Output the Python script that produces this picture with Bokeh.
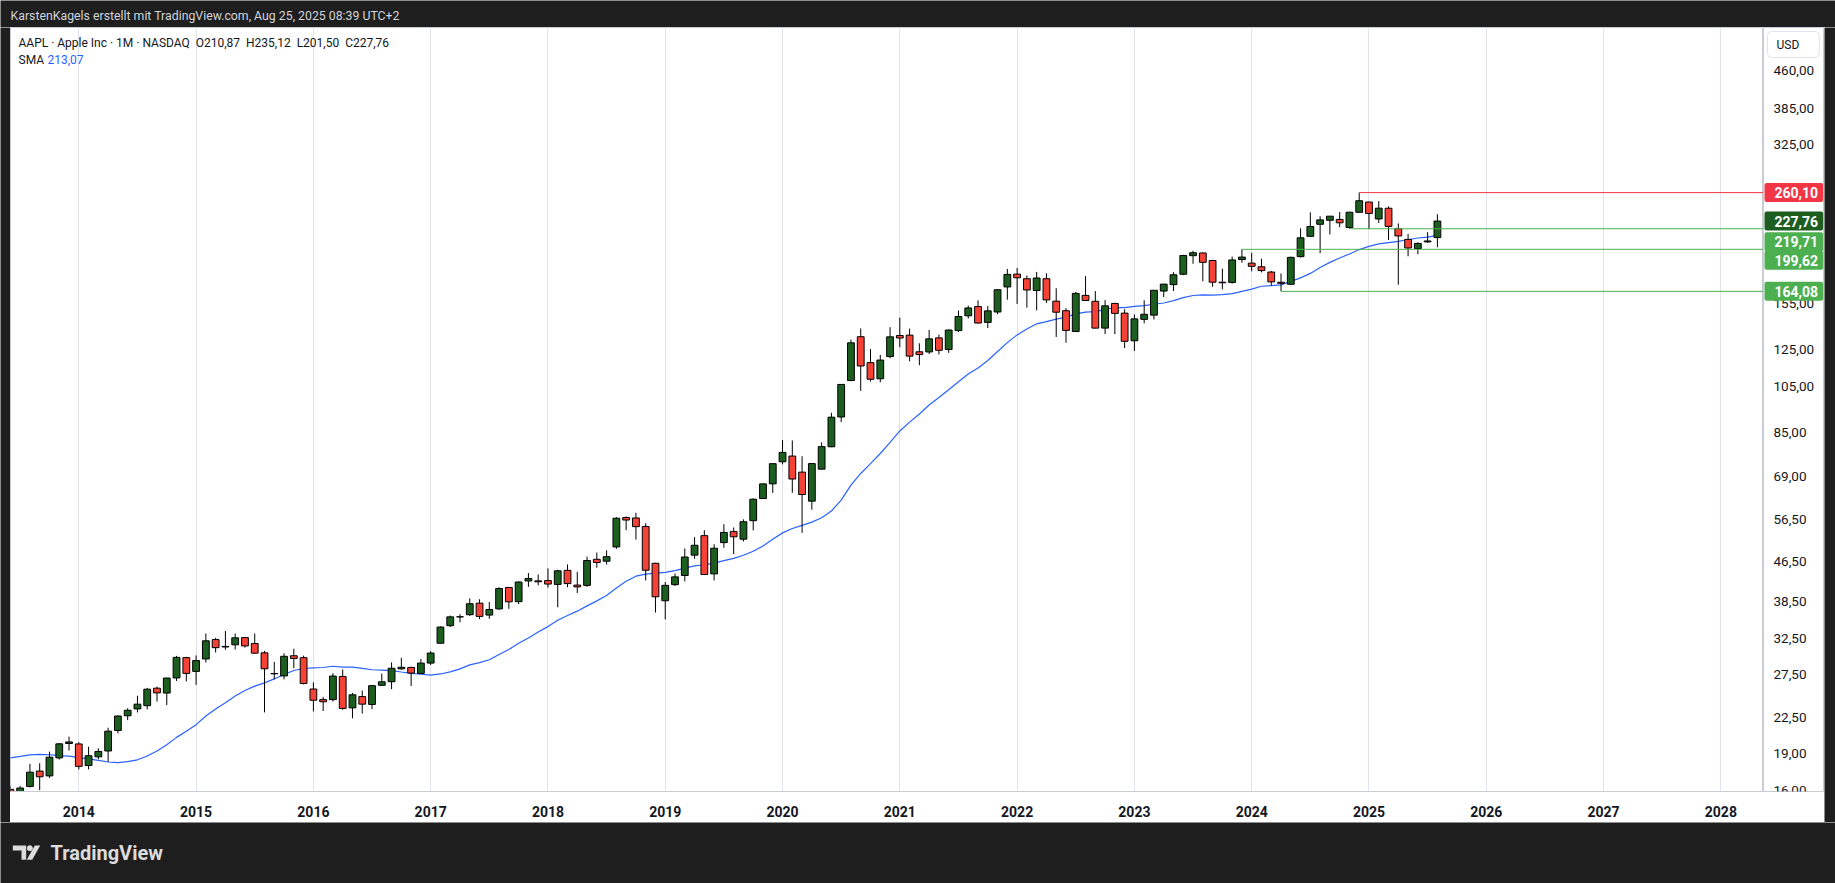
import pandas as pd
from bokeh.plotting import figure
from bokeh.models import Range1d, FixedTicker, CustomJSTickFormatter, Label, ColumnDataSource
from bokeh.layouts import column, row
from bokeh.core.properties import value
from bokeh.embed import file_html
from bokeh.resources import INLINE

# ---------------- data (AAPL monthly, USD) ----------------
first_month = "2013-06"

o2013 = [16.06, 14.38, 16.28, 17.49, 17.10, 18.60, 19.89]
h2013 = [16.32, 16.32, 18.09, 18.14, 19.15, 19.94, 20.54]
l2013 = [13.75, 14.11, 16.20, 16.00, 16.94, 18.45, 19.24]
c2013 = [14.16, 16.16, 17.40, 17.03, 18.66, 19.86, 20.04]

o2014 = [19.85, 17.95, 18.69, 19.21, 21.14, 22.64, 23.38, 23.73, 25.75, 25.17, 27.01, 29.70]
h2014 = [20.01, 19.60, 19.45, 21.41, 22.69, 23.45, 24.86, 25.79, 25.94, 27.03, 29.94, 29.81]
l2014 = [17.63, 17.63, 18.48, 18.26, 20.86, 22.18, 23.00, 23.32, 24.19, 23.80, 26.63, 26.57]
c2014 = [17.88, 18.79, 19.17, 21.07, 22.61, 23.23, 23.90, 25.63, 25.19, 27.00, 29.73, 27.59]

o2015 = [27.85, 29.51, 32.31, 31.21, 31.53, 32.61, 31.72, 30.37, 27.54, 27.27, 29.96, 29.69]
h2015 = [30.00, 33.24, 32.57, 33.63, 33.24, 32.69, 33.24, 30.64, 29.12, 30.30, 30.95, 29.97]
l2015 = [26.16, 29.02, 30.41, 30.80, 30.84, 31.12, 30.26, 23.00, 26.84, 26.83, 28.25, 26.21]
c2015 = [29.29, 32.12, 31.11, 31.29, 32.57, 31.36, 30.32, 28.19, 27.57, 29.88, 29.58, 26.32]

o2016 = [25.65, 24.41, 24.41, 27.20, 23.49, 24.76, 23.87, 26.10, 26.54, 28.18, 28.37, 27.59]
h2016 = [26.46, 24.72, 27.61, 28.10, 25.18, 25.47, 26.14, 27.56, 29.05, 29.67, 28.44, 29.50]
l2016 = [23.10, 23.15, 24.19, 23.28, 22.37, 22.88, 23.35, 26.01, 25.63, 28.07, 26.02, 27.56]
c2016 = [24.34, 24.17, 27.25, 23.43, 24.97, 23.90, 26.05, 26.53, 28.26, 28.39, 27.63, 28.95]

o2017 = [28.95, 31.76, 34.47, 35.93, 36.28, 38.29, 36.22, 37.28, 41.20, 38.56, 42.47, 42.49]
h2017 = [30.61, 34.37, 36.13, 36.37, 39.16, 38.99, 38.50, 41.24, 41.24, 42.41, 44.06, 43.78]
l2017 = [28.69, 31.75, 34.26, 35.01, 36.07, 35.55, 35.60, 37.10, 37.29, 38.12, 41.32, 41.62]
c2017 = [30.34, 34.25, 35.92, 35.91, 38.19, 36.00, 37.18, 41.00, 38.53, 42.26, 42.96, 42.31]

o2018 = [42.54, 41.79, 44.63, 41.66, 41.60, 46.99, 46.57, 49.78, 57.10, 56.99, 54.76, 46.12]
h2018 = [45.03, 44.76, 45.88, 44.33, 47.59, 48.49, 48.99, 57.22, 57.42, 58.37, 55.59, 46.24]
l2018 = [41.18, 37.56, 41.24, 40.16, 41.32, 45.18, 45.86, 49.33, 53.83, 51.52, 42.56, 36.65]
c2018 = [41.86, 44.53, 41.95, 41.31, 46.72, 46.28, 47.57, 56.91, 56.44, 54.72, 44.65, 39.44]

o2019 = [38.72, 41.74, 43.57, 47.91, 52.47, 43.90, 50.79, 53.47, 51.61, 56.27, 62.38, 66.82]
h2019 = [42.25, 43.97, 49.42, 52.12, 53.83, 50.39, 55.34, 54.51, 56.61, 62.44, 66.94, 73.49]
l2019 = [35.50, 41.48, 42.38, 47.10, 43.75, 42.57, 49.60, 48.15, 51.06, 53.78, 62.29, 64.07]
c2019 = [41.61, 43.29, 47.49, 50.17, 43.77, 49.48, 53.26, 52.19, 55.99, 62.19, 66.81, 73.41]

o2020 = [74.06, 76.07, 70.57, 61.63, 71.56, 79.44, 91.28, 108.20, 132.76, 117.64, 109.11, 121.01]
h2020 = [81.96, 81.81, 76.00, 73.63, 81.06, 93.10, 106.42, 131.00, 137.98, 125.39, 121.99, 138.79]
l2020 = [73.19, 64.09, 53.15, 59.22, 71.46, 79.30, 89.14, 107.89, 103.10, 107.72, 107.32, 120.01]
c2020 = [77.38, 68.34, 63.57, 73.45, 79.49, 91.20, 106.26, 129.04, 115.81, 108.86, 119.05, 132.69]

o2021 = [133.52, 133.75, 123.75, 123.66, 132.04, 125.08, 136.60, 146.36, 152.83, 141.90, 148.99, 167.48]
h2021 = [145.09, 137.88, 128.72, 137.07, 134.07, 137.41, 150.00, 153.49, 157.26, 153.17, 165.70, 182.13]
l2021 = [126.38, 118.39, 116.21, 122.49, 122.25, 123.13, 135.76, 144.50, 141.27, 138.27, 147.48, 157.80]
c2021 = [131.96, 121.26, 122.15, 131.46, 124.61, 136.96, 145.86, 151.83, 141.50, 149.80, 165.30, 177.57]

o2022 = [177.83, 174.01, 164.70, 174.03, 156.71, 149.90, 136.04, 161.01, 156.64, 138.21, 155.08, 148.21]
h2022 = [182.94, 176.65, 179.61, 178.49, 166.48, 151.74, 163.63, 176.15, 164.26, 157.50, 155.45, 150.92]
l2022 = [154.70, 152.00, 150.10, 155.38, 132.61, 129.04, 135.66, 157.14, 138.00, 134.37, 134.38, 125.87]
c2022 = [174.78, 165.12, 174.61, 157.65, 148.84, 136.72, 162.51, 157.22, 138.20, 153.34, 148.03, 129.93]

o2023 = [130.28, 143.97, 146.83, 164.27, 169.28, 177.70, 193.78, 196.24, 189.49, 171.22, 171.00, 190.33]
h2023 = [147.23, 157.38, 165.00, 169.85, 179.35, 194.48, 198.23, 196.73, 189.98, 182.34, 192.93, 199.62]
l2023 = [124.17, 141.32, 143.90, 159.78, 164.31, 176.93, 186.60, 171.96, 167.62, 165.67, 170.12, 187.45]
c2023 = [144.29, 147.41, 164.90, 169.68, 177.25, 193.97, 196.45, 187.87, 171.21, 170.77, 189.95, 192.53]

o2024 = [187.15, 183.99, 179.55, 171.19, 169.58, 192.90, 212.09, 224.37, 228.55, 229.52, 220.97, 237.27]
h2024 = [196.38, 191.05, 180.53, 178.36, 193.00, 220.20, 237.23, 232.92, 233.09, 237.49, 237.81, 260.10]
l2024 = [180.17, 179.25, 168.49, 164.08, 169.11, 192.15, 211.92, 196.00, 213.92, 221.33, 219.71, 237.16]
c2024 = [184.40, 180.75, 171.48, 170.33, 192.25, 210.62, 222.08, 229.00, 233.00, 225.91, 237.33, 250.42]

o2025 = [248.93, 229.99, 241.79, 219.81, 209.08, 200.28, 206.67, 210.87]
h2025 = [249.10, 250.00, 244.03, 225.19, 214.56, 206.24, 216.23, 235.12]
l2025 = [219.38, 225.70, 208.42, 169.21, 193.25, 195.07, 205.60, 201.50]
c2025 = [236.00, 241.84, 222.13, 212.50, 200.85, 205.17, 207.57, 227.76]

opens = o2013 + o2014 + o2015 + o2016 + o2017 + o2018 + o2019 + o2020 + o2021 + o2022 + o2023 + o2024 + o2025
highs = h2013 + h2014 + h2015 + h2016 + h2017 + h2018 + h2019 + h2020 + h2021 + h2022 + h2023 + h2024 + h2025
lows = l2013 + l2014 + l2015 + l2016 + l2017 + l2018 + l2019 + l2020 + l2021 + l2022 + l2023 + l2024 + l2025
closes = c2013 + c2014 + c2015 + c2016 + c2017 + c2018 + c2019 + c2020 + c2021 + c2022 + c2023 + c2024 + c2025

# closes before the visible window (Oct 2011 - May 2013), needed for the 20-month SMA
history_first_month = "2011-10"
history_closes = [14.46, 13.65, 14.46, 16.30, 19.37, 21.41, 20.86, 20.63, 20.86, 21.81,
                  23.76, 23.83, 21.26, 20.90, 19.01, 16.27, 15.76, 15.81, 15.81, 16.06]
sma_length = 20

# horizontal levels drawn on the chart
level_prices = [260.10, 219.71, 199.62, 164.08]
level_start = ["2024-12", "2024-11", "2023-12", "2024-04"]

price_ticks = [16, 19, 22.5, 27.5, 32.5, 38.5, 46.5, 56.5, 69, 85, 105, 125, 155, 325, 385, 460]
year_ticks = list(range(2014, 2029))

header_text = "KarstenKagels erstellt mit TradingView.com, Aug 25, 2025 08:39 UTC+2"
legend_text = "AAPL \u00b7 Apple Inc \u00b7 1M \u00b7 NASDAQ \u00a0O210,87 \u00a0H235,12 \u00a0L201,50 \u00a0C227,76"
sma_label = "SMA"
sma_value_text = "213,07"
currency_text = "USD"
brand_text = "TradingView"

# ---------------- styles / layout ----------------
DARK = "#1e1e1e"
UP = "#1b5e20"
DOWN = "#f44336"
SMA_COLOR = "#2962ff"
TEXT = "#131722"
GRID = "#e0e3eb"
AXIS_LINE = "#c9ccd4"
LOGO = "#dcdcdc"
FONT = "Roboto"
level_line_colors = ["#f23645", "#4caf50", "#4caf50", "#4caf50"]
tag_colors = ["#f23645", "#1b5e20", "#4caf50", "#4caf50", "#4caf50"]
tag_offsets = [0, 0, -13, -11, 0]

PAGE_W = 1835
HEAD_H, BODY_H, FOOT_H = 27, 795, 61
LEFT_PAD, RIGHT_PAD = 10, 11
FRAME_W, FRAME_H = 1753, 764
AXIS_H = BODY_H - FRAME_H
PANEL_W = PAGE_W - LEFT_PAD - RIGHT_PAD - FRAME_W
X0, X1 = 2013.4177, 2028.3636
Y0, Y1 = 15.9, 562.0


def month_pos(m):
    y, mo = m.split("-")
    return int(y) + (int(mo) - 1) / 12.0


def price_text(v):
    return f"{v:.2f}".replace(".", ",")


def blank(w, h, color):
    f = figure(width=w, height=h, frame_width=w, frame_height=h,
               x_range=Range1d(0, w), y_range=Range1d(0, h),
               x_axis_location=None, y_axis_location=None,
               toolbar_location=None, output_backend="svg", min_border=0)
    f.grid.visible = False
    f.outline_line_color = None
    f.background_fill_color = color
    f.border_fill_color = color
    return f


months = [str(p) for p in pd.period_range(first_month, periods=len(closes), freq="M")]
hist_months = [str(p) for p in pd.period_range(history_first_month, periods=len(history_closes), freq="M")]

candles = ColumnDataSource(dict(
    t=[month_pos(m) for m in months], o=opens, h=highs, l=lows, c=closes,
    top=[max(a, b) for a, b in zip(opens, closes)],
    bottom=[min(a, b) for a, b in zip(opens, closes)],
    color=[UP if c >= o else DOWN for o, c in zip(opens, closes)],
))

sma_series = pd.Series(history_closes + closes).rolling(sma_length).mean()
sma_t = [month_pos(m) for m in hist_months + months]
sma_df = pd.DataFrame(dict(t=sma_t, v=sma_series)).dropna()

# ---------------- header strip ----------------
hdr = blank(PAGE_W, HEAD_H, DARK)
hdr.add_layout(Label(x=10, y=12, x_units="screen", y_units="screen", text=header_text,
                     text_color="#d1d4dc", text_font=FONT, text_font_size="12.3px",
                     text_baseline="middle", text_align="left"))

# ---------------- main chart ----------------
y_range = Range1d(Y0, Y1)
p = figure(width=FRAME_W, height=BODY_H, frame_width=FRAME_W, frame_height=FRAME_H,
           x_range=Range1d(X0, X1), y_range=y_range, y_axis_type="log",
           y_axis_location=None, toolbar_location=None, output_backend="svg",
           min_border_left=0, min_border_right=0, min_border_top=0, min_border_bottom=AXIS_H)
p.background_fill_color = "white"
p.border_fill_color = "white"
p.outline_line_color = AXIS_LINE

p.xaxis.ticker = FixedTicker(ticks=year_ticks)
p.xaxis.formatter = CustomJSTickFormatter(code="return tick.toFixed(0)")
p.xaxis.major_label_text_font = FONT
p.xaxis.major_label_text_font_size = "14px"
p.xaxis.major_label_text_font_style = "bold"
p.xaxis.major_label_text_color = TEXT
p.xaxis.major_label_standoff = 8
p.xaxis.major_tick_line_color = None
p.xaxis.minor_tick_line_color = None
p.xaxis.axis_line_color = AXIS_LINE

p.xgrid.ticker = FixedTicker(ticks=year_ticks)
p.xgrid.grid_line_color = GRID
p.ygrid.visible = False

# SMA line
p.line(sma_df["t"], sma_df["v"], line_color=SMA_COLOR, line_width=1.2)

# candles
p.segment("t", "h", "t", "l", source=candles, line_color="black", line_width=1)
p.vbar(x="t", width=0.058, top="top", bottom="bottom", source=candles,
       fill_color="color", line_color="black", line_width=1)

# level lines
p.segment(x0=[month_pos(m) for m in level_start], y0=level_prices,
          x1=[X1] * len(level_prices), y1=level_prices,
          line_color=level_line_colors, line_width=1)

# legend texts
p.add_layout(Label(x=8, y=FRAME_H - 15, x_units="screen", y_units="screen", text=legend_text,
                   text_color=TEXT, text_font=FONT, text_font_size="12px", text_baseline="middle"))
p.add_layout(Label(x=8, y=FRAME_H - 32, x_units="screen", y_units="screen", text=sma_label,
                   text_color=TEXT, text_font=FONT, text_font_size="12px", text_baseline="middle"))
p.add_layout(Label(x=37, y=FRAME_H - 32, x_units="screen", y_units="screen", text=sma_value_text,
                   text_color=SMA_COLOR, text_font=FONT, text_font_size="12px", text_baseline="middle"))

# ---------------- price scale panel (shares the log y range) ----------------
pp = figure(width=PANEL_W, height=BODY_H, frame_width=PANEL_W, frame_height=FRAME_H,
            x_range=Range1d(0, PANEL_W), y_range=y_range, y_axis_type="log",
            x_axis_location=None, y_axis_location=None,
            toolbar_location=None, output_backend="svg",
            min_border_left=0, min_border_right=0, min_border_top=0, min_border_bottom=AXIS_H)
pp.grid.visible = False
pp.outline_line_color = AXIS_LINE
pp.background_fill_color = "white"
pp.border_fill_color = "white"

pp.text(x=[10] * len(price_ticks), y=price_ticks, text=[price_text(v) for v in price_ticks],
        text_font=value(FONT), text_font_size="13.5px", text_color=TEXT,
        text_baseline="middle", text_align="left")

pp.add_layout(Label(x=4, y=FRAME_H - 17, x_units="screen", y_units="screen", text=currency_text,
                    text_color=TEXT, text_font=FONT, text_font_size="12px", text_baseline="middle",
                    border_line_color="#e0e3eb", background_fill_color="white",
                    padding=(9, 20, 6, 6), border_radius=4))

tag_prices = [level_prices[0], closes[-1], level_prices[1], level_prices[2], level_prices[3]]
for price, col, off in zip(tag_prices, tag_colors, tag_offsets):
    pp.add_layout(Label(x=1, y=price, x_units="screen", y_units="data", y_offset=off,
                        text=price_text(price), text_color="white",
                        text_font=FONT, text_font_size="14px", text_font_style="bold",
                        text_baseline="middle", text_align="left",
                        background_fill_color=col, padding=(10, 5, 4, 4), border_radius=2))

# ---------------- footer strip with logo ----------------
ftr = blank(PAGE_W, FOOT_H, DARK)
ftr.patches(xs=[[12.3, 25.7, 25.7, 21, 21, 12.3], [26.3, 31.7, 39.7, 34.3]],
            ys=[[38, 38, 23.7, 23.7, 33, 33], [23.7, 23.7, 38, 38]],
            fill_color=LOGO, line_color=None)
ftr.scatter(x=[29.3], y=[35.3], size=5, color=LOGO)
ftr.add_layout(Label(x=50, y=31, x_units="screen", y_units="screen", text=brand_text,
                     text_color=LOGO, text_font=FONT, text_font_size="20px",
                     text_font_style="bold", text_baseline="middle"))

body = row(blank(LEFT_PAD, BODY_H, DARK), p, pp, blank(RIGHT_PAD, BODY_H, DARK), spacing=0)
layout = column(hdr, body, ftr, spacing=0)
open("out.html", "w").write(file_html(layout, INLINE))
